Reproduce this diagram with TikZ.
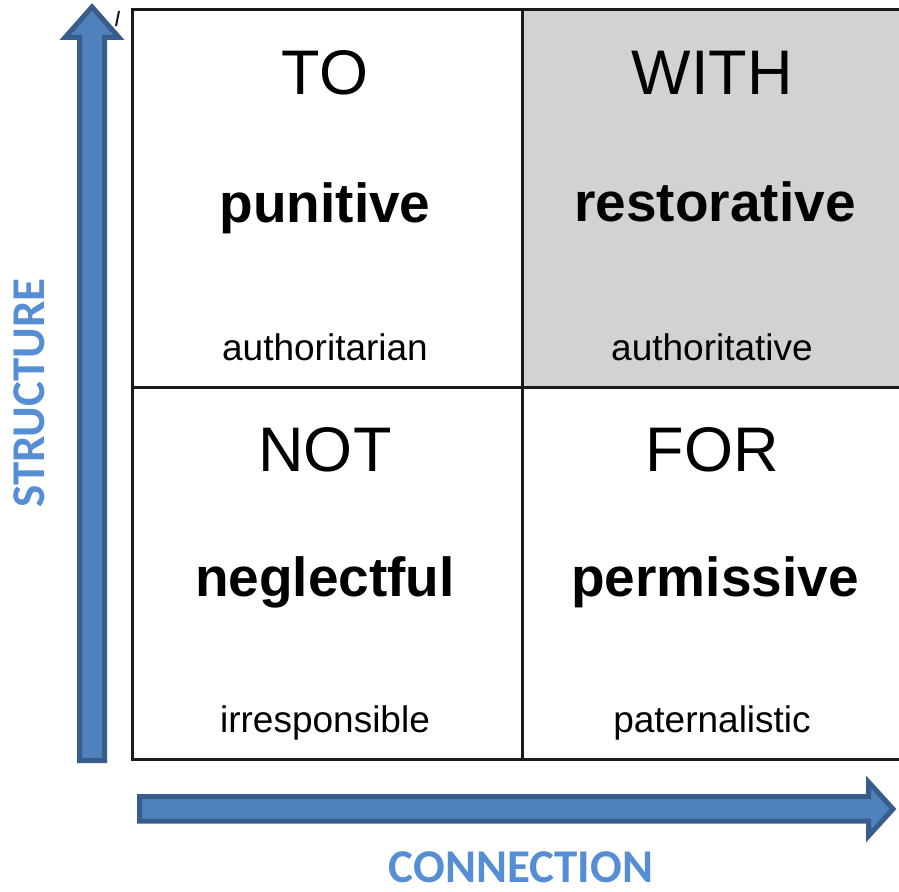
\documentclass[tikz,border=0pt]{standalone}
\usepackage{fontspec}
\setmainfont{Liberation Sans}
\newfontfamily\calibri{Carlito}
\definecolor{arrowfill}{HTML}{4F81BD}
\definecolor{arrowline}{HTML}{385D8A}
\definecolor{axisblue}{HTML}{558ED5}
\definecolor{cellgray}{HTML}{D1D2D4}
\definecolor{gridline}{HTML}{1A1A1A}
\begin{document}
\begin{tikzpicture}[x=1pt,y=-1pt,
  gridl/.style={draw=gridline,line width=3pt},
  blockarrow/.style={fill=arrowfill,draw=arrowline,line width=5pt,line join=miter},
  keyword/.style={anchor=base,font=\fontsize{63}{63}\selectfont,inner sep=0pt},
  mainword/.style={anchor=base,font=\fontsize{55}{55}\selectfont\bfseries,inner sep=0pt},
  subword/.style={anchor=base,font=\fontsize{37}{37}\selectfont,inner sep=0pt},
  axislabel/.style={text=axisblue,font=\fontsize{47}{47}\selectfont\calibri\bfseries,inner sep=0pt}]
\useasboundingbox (0,0) rectangle (899,891);
% gray cell
\fill[cellgray] (522,10) rectangle (899,387);
% grid
\coordinate (tl) at (132,10);
\coordinate (tr) at (899,10);
\coordinate (bl) at (132,759);
\coordinate (br) at (899,759);
\coordinate (mt) at (522,10);
\coordinate (mb) at (522,759);
\coordinate (ml) at (132,387);
\coordinate (mr) at (899,387);
\draw[gridl] (tr) -- (tl) -- (bl) -- (br);
\draw[gridl] (mt) -- (mb);
\draw[gridl] (ml) -- (mr);
% stray tick
\draw[gridline,line width=2pt] (116,26) -- (119,11);
% up arrow
\draw[blockarrow] (79.5,760.5) -- (79.5,37.5) -- (65,37.5) -- (92,7) -- (119,37.5) -- (104.5,37.5) -- (104.5,760.5) -- cycle;
% right arrow
\draw[blockarrow] (139.5,796.5) -- (868.5,796.5) -- (868.5,782) -- (893,809) -- (868.5,836) -- (868.5,821) -- (139.5,821) -- cycle;
% cell texts
\node[keyword] (to) at (325,94) {TO};
\node[mainword] (punitive) at (325,222) {punitive};
\node[subword] (authoritarian) at (325,360) {authoritarian};
\node[keyword] (with) at (712,94) {WITH};
\node[mainword] (restorative) at (715,221) {restorative};
\node[subword] (authoritative) at (712,360) {authoritative};
\node[keyword] (not) at (325,471) {NOT};
\node[mainword] (neglectful) at (325,596) {neglectful};
\node[subword] (irresponsible) at (325,732) {irresponsible};
\node[keyword] (for) at (712,471) {FOR};
\node[mainword] (permissive) at (715,596) {permissive};
\node[subword] (paternalistic) at (712,732) {paternalistic};
% axis labels
\node[axislabel,rotate=90] (structure) at (29,393) {STRUCTURE};
\node[axislabel,anchor=base] (connection) at (521,882) {CONNECTION};
\end{tikzpicture}
\end{document}
